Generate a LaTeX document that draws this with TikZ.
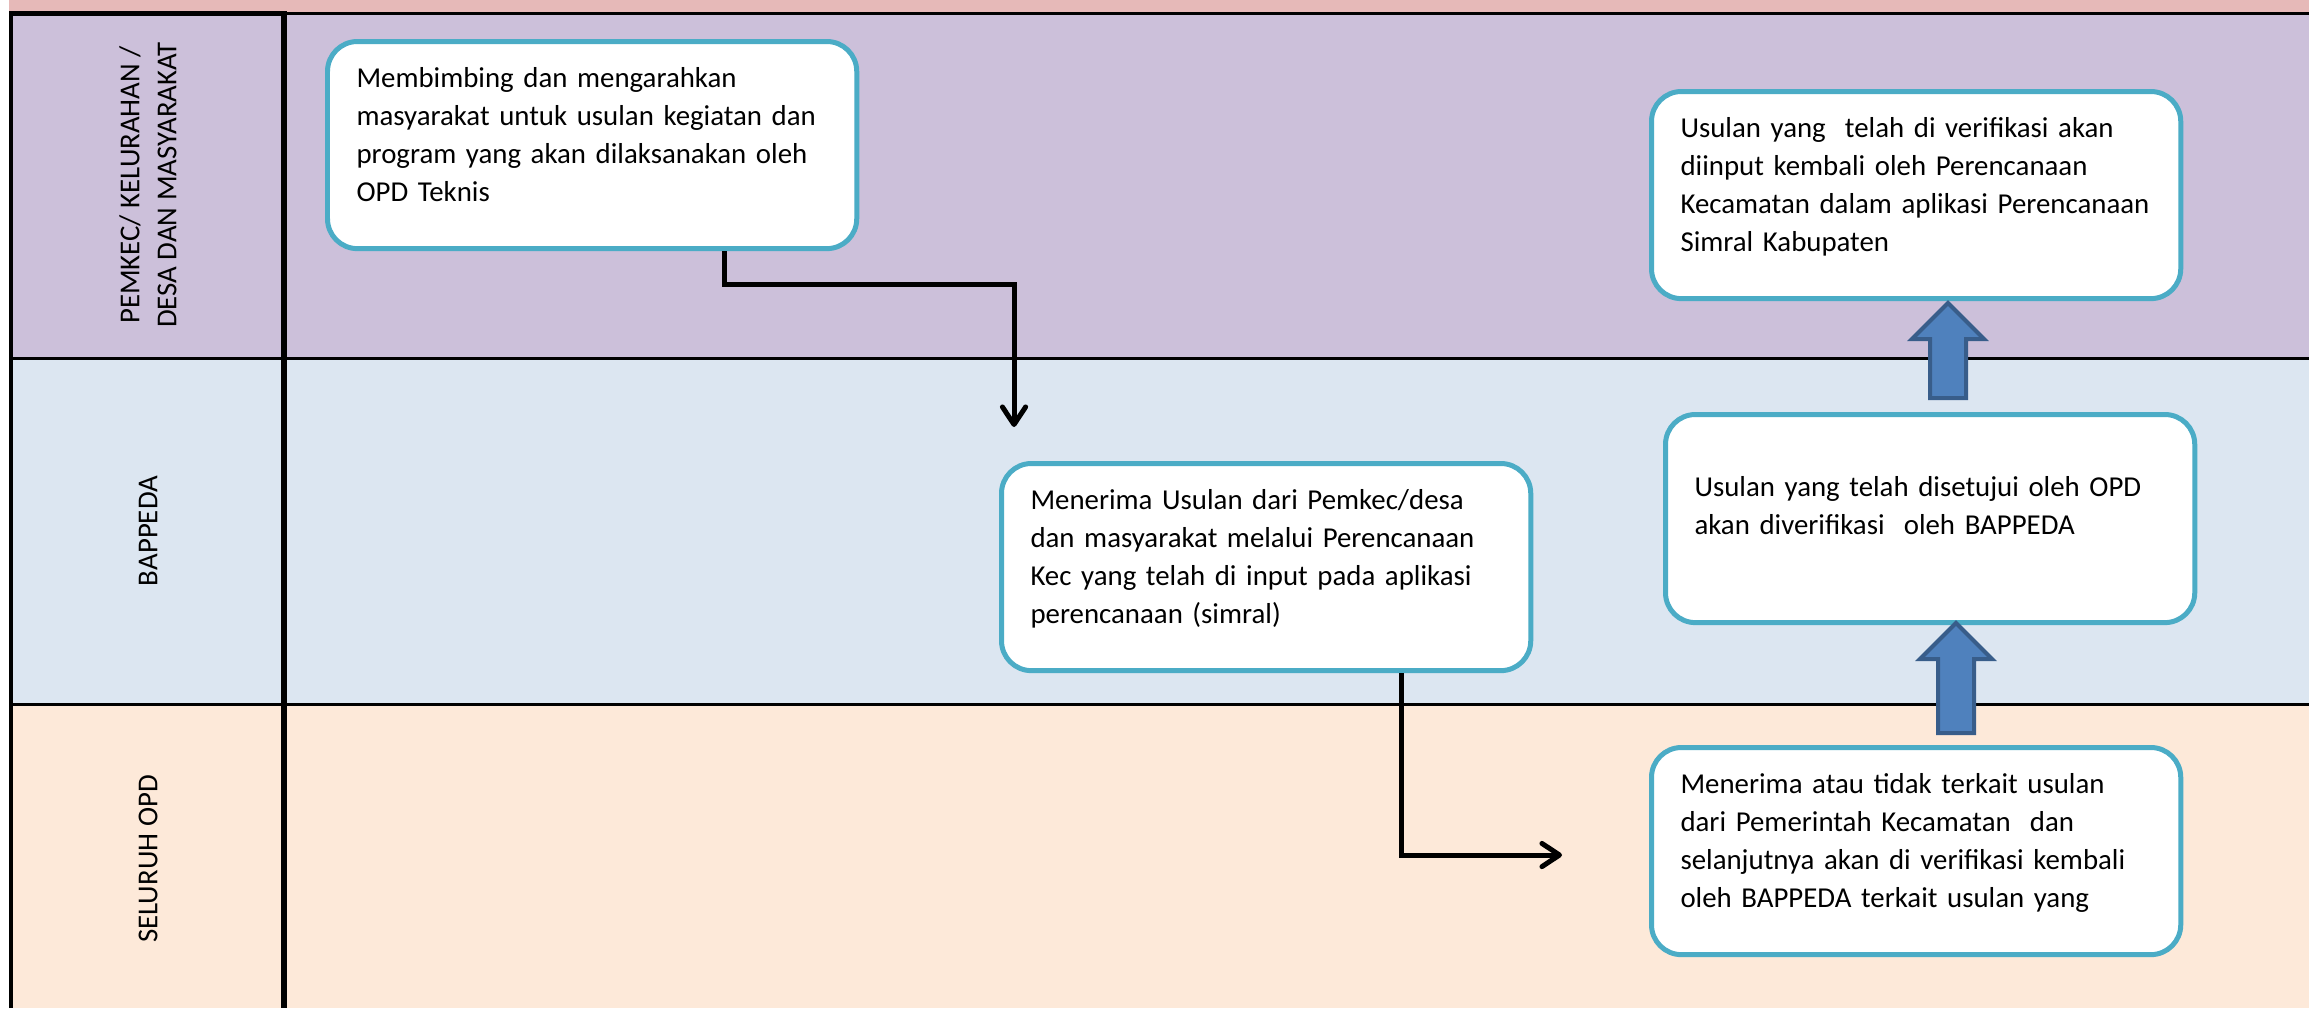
\documentclass[tikz,border=0pt]{standalone}
\usepackage{fontspec}
\setmainfont{Carlito}
\usetikzlibrary{arrows.meta,calc}
\definecolor{bandpink}{HTML}{E6B9B8}
\definecolor{lanepurple}{HTML}{CCC0DA}
\definecolor{laneblue}{HTML}{DCE6F1}
\definecolor{lanepeach}{HTML}{FDE9D9}
\definecolor{boxedge}{HTML}{4BACC6}
\definecolor{arrowfill}{HTML}{4F81BD}
\definecolor{arrowedge}{HTML}{385D8A}

\begin{document}
\begin{tikzpicture}[x=0.01cm,y=-0.01cm,font=\fontsize{8.2}{10.8}\selectfont,
        lanelabel/.style={rotate=90,align=center,font=\fontsize{8.2}{10.5}\selectfont},
        stepbox/.style={draw=boxedge,line width=1.42pt,fill=white,rounded corners=8.5pt,anchor=north west,
            align=left,text width=134pt,inner xsep=8.25pt,inner ysep=0pt,text height=13.2pt,text depth=45.7pt},
        flow/.style={draw,line width=1.42pt,-{Straight Barb[length=5pt,width=6.6pt,line join=round,line cap=round]}},
        uparrow/.style={draw=arrowedge,fill=arrowfill,line width=1.14pt}]
    \useasboundingbox (0,0) rectangle (2309,1008);

    % lanes
    \fill[bandpink] (9,0) rectangle (2309,12);
    \foreach \ya/\yb/\col in {13/358/lanepurple,358/704/laneblue,704/1008/lanepeach}{
        \fill[\col] (11,\ya) rectangle (2309,\yb);
    }
    \foreach \y in {13,358,704}{
        \draw[line width=0.85pt] (11,\y) -- (2309,\y);
    }
    \draw[line width=1.42pt] (11,1008) -- (11,13) -- (284,13);
    \draw[line width=1.7pt] (284,11) -- (284,1008);

    \node[lanelabel] (lane1) at (148,185) {PEMKEC/ KELURAHAN /\\DESA DAN MASYARAKAT};
    \node[lanelabel] (lane2) at (148,531) {BAPPEDA};
    \node[lanelabel] (lane3) at (148,859) {SELURUH OPD};

    % steps
    \node[stepbox] (boxA) at (325,39) {Membimbing dan mengarahkan\\masyarakat untuk usulan kegiatan dan\\program yang akan dilaksanakan oleh\\OPD Teknis};
    \node[stepbox] (boxB) at (999,461) {Menerima Usulan dari Pemkec/desa\\dan masyarakat melalui Perencanaan\\Kec yang telah di input pada aplikasi\\perencanaan (simral)};
    \node[stepbox] (boxC) at (1649,89) {Usulan yang\ \ telah di verifikasi akan\\diinput kembali oleh Perencanaan\\Kecamatan dalam aplikasi Perencanaan\\Simral Kabupaten};
    \node[stepbox,text height=23.33pt,text depth=35.85pt] (boxD) at (1663,412) {Usulan yang telah disetujui oleh OPD\\akan diverifikasi\ \ oleh BAPPEDA};
    \node[stepbox] (boxE) at (1649,745) {Menerima atau tidak terkait usulan\\dari Pemerintah Kecamatan\ \ dan\\selanjutnya akan di verifikasi kembali\\oleh BAPPEDA terkait usulan yang};

    % connectors
    \coordinate (bendA) at (1014,284);
    \coordinate (inB) at (1014,427);
    \coordinate (inE) at (1562,855);
    \draw[flow] ($(boxA.south)+(132,0)$) |- (bendA) -- (inB);
    \draw[flow] ($(boxB.south)+(135,0)$) |- (inE);

    \foreach \x/\ya/\yb in {1948/303/398,1956/623/733}{
        \draw[uparrow] (\x,\ya) -- (\x+36,\ya+36) -- (\x+18,\ya+36) -- (\x+18,\yb)
            -- (\x-18,\yb) -- (\x-18,\ya+36) -- (\x-36,\ya+36) -- cycle;
    }
\end{tikzpicture}
\end{document}
